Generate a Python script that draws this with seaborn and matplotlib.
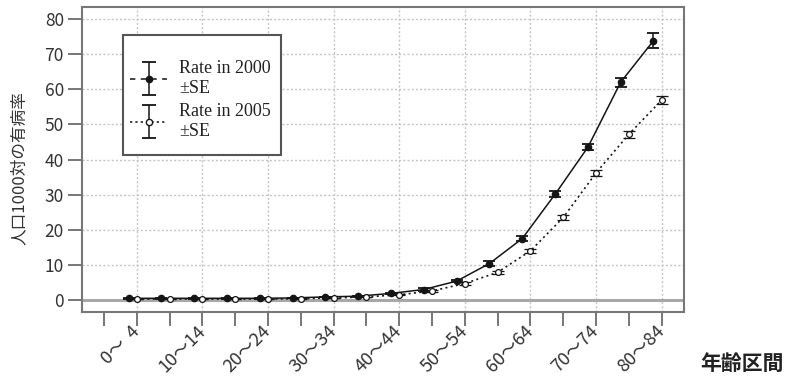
import numpy as np
import pandas as pd
import matplotlib
matplotlib.use("Agg")
import matplotlib.pyplot as plt
import matplotlib.transforms as mtransforms
import matplotlib.patches as mpatches
import seaborn as sns
from matplotlib.container import ErrorbarContainer
from matplotlib.lines import Line2D
from matplotlib.collections import LineCollection
from matplotlib.legend_handler import HandlerErrorbar

# ---- data -------------------------------------------------------------
age_groups = ["0-4", "5-9", "10-14", "15-19", "20-24", "25-29", "30-34",
              "35-39", "40-44", "45-49", "50-54", "55-59", "60-64",
              "65-69", "70-74", "75-79", "80-84"]
rate_2000 = [0.5, 0.5, 0.5, 0.5, 0.5, 0.6, 0.9, 1.1, 1.9, 3.0, 5.4,
             10.4, 17.5, 30.1, 43.5, 62.0, 73.8]
se_2000 = [0.1, 0.1, 0.1, 0.1, 0.1, 0.1, 0.1, 0.1, 0.2, 0.3, 0.4,
           0.6, 0.7, 0.8, 0.9, 1.3, 2.1]
rate_2005 = [0.3, 0.3, 0.3, 0.3, 0.3, 0.4, 0.6, 0.9, 1.5, 2.6, 4.7,
             7.9, 14.0, 23.5, 36.2, 47.2, 56.9]
se_2005 = [0.1, 0.1, 0.1, 0.1, 0.1, 0.1, 0.1, 0.1, 0.1, 0.2, 0.3,
           0.4, 0.5, 0.6, 0.8, 1.0, 1.2]
tick_labels = ["0～  4", "10～14", "20～24", "30～34", "40～44",
               "50～54", "60～64", "70～74", "80～84"]
y_ticks = [0, 10, 20, 30, 40, 50, 60, 70, 80]

# ---- style ------------------------------------------------------------
sns.set_theme(style="white")
plt.rcParams["font.family"] = ["Noto Sans CJK JP", "DejaVu Sans"]

INK = "#151515"
FRAME = "#777777"
GRID = "#c4c4c4"
TXT = "#333333"

pos = np.arange(1, len(age_groups) + 1)
df = pd.DataFrame({
    "pos": np.concatenate([pos - 0.25, pos]),
    "rate": rate_2000 + rate_2005,
    "se": se_2000 + se_2005,
    "year": ["2000"] * len(pos) + ["2005"] * len(pos),
})
d00 = df[df["year"] == "2000"]
d05 = df[df["year"] == "2005"]

W, H = 790, 385
fig = plt.figure(figsize=(W / 100, H / 100), dpi=100)
ax = fig.add_axes([82 / W, 1 - 312 / H, 602 / W, 305 / H])

# grid: dotted at 10..80 and at labelled age groups, solid grey baseline
for yv in y_ticks[1:]:
    ax.axhline(yv, color=GRID, lw=1.0, ls=(0, (1.5, 1.5)), zorder=0)
for xv in pos[::2]:
    ax.axvline(xv, color=GRID, lw=1.0, ls=(0, (1.5, 1.5)), zorder=0)
ax.axhline(0, color="#a8a8a8", lw=2.2, zorder=0.5)

# connecting lines
sns.lineplot(data=d00, x="pos", y="rate", ax=ax, color=INK, lw=1.1,
             estimator=None, sort=True, legend=False)
sns.lineplot(data=d05, x="pos", y="rate", ax=ax, color=INK, lw=1.2,
             estimator=None, sort=True, legend=False)
ax.lines[-1].set_linestyle((0, (1.2, 2.0)))

# points with standard-error bars
ax.errorbar(d00["pos"], d00["rate"], yerr=d00["se"], fmt="o", ms=4.5,
            color=INK, mfc=INK, mec=INK, ecolor=INK, elinewidth=1.1,
            capsize=4.5, capthick=1.3, zorder=3)
ax.errorbar(d05["pos"], d05["rate"], yerr=d05["se"], fmt="o", ms=4.2,
            color=INK, mfc="white", mec=INK, mew=0.9, ecolor=INK,
            elinewidth=1.0, capsize=4.5, capthick=1.3, zorder=3)

# axes limits and ticks
ax.set_xlim(-0.67, 17.68)
ax.set_ylim(-3.4, 83.4)
ax.set_yticks(y_ticks)
ax.set_yticklabels([str(v) for v in y_ticks], fontsize=12.5, color=TXT)
ax.set_xticks(np.arange(0, len(age_groups) + 1))
labels_full = [""] * (len(age_groups) + 1)
for i, lab in zip(pos[::2], tick_labels):
    labels_full[i] = lab
ax.set_xticklabels(labels_full, fontsize=13, color=TXT,
                   rotation=45, ha="right", va="center",
                   rotation_mode="anchor")
shift = mtransforms.ScaledTranslation(12 / 100, -3 / 100, fig.dpi_scale_trans)
for lab in ax.get_xticklabels():
    lab.set_transform(lab.get_transform() + shift)

ax.tick_params(axis="both", which="both", direction="out", length=10,
               width=1.4, color=FRAME, left=True, bottom=True)
ax.tick_params(axis="y", pad=3)
ax.tick_params(axis="x", pad=2)
for sp in ax.spines.values():
    sp.set_color(FRAME)
    sp.set_linewidth(1.5)
    sp.set_visible(True)

ax.set_xlabel("")
ax.set_ylabel("人口1000対の有病率", fontsize=12, color=TXT)
ax.yaxis.set_label_coords(-0.09, 0.472)
fig.text(742 / W, 1 - 363 / H, "年齢区間", fontsize=15,
         fontweight="bold", ha="center", va="center", color="#222222")

# legend with error-bar glyphs, on a white boxed panel
panel = mpatches.Rectangle((123 / W, 1 - 155 / H), 158 / W, 120 / H,
                           transform=fig.transFigure, facecolor="white",
                           edgecolor="#555555", lw=1.5, zorder=4,
                           clip_on=False)
ax.add_patch(panel)


def eb_handle(ls, mfc):
    line = Line2D([], [], color=INK, ls=ls, lw=1.1, marker="o", ms=4.5,
                  mfc=mfc, mec=INK)
    cap = Line2D([], [], color=INK, marker="_", ms=10, mew=1.3)
    bars = LineCollection([], colors=INK, linewidths=1.1)
    return ErrorbarContainer((line, (cap, cap), (bars,)),
                             has_xerr=False, has_yerr=True)


handles = [eb_handle((0, (3.5, 3.5)), INK), eb_handle((0, (1.5, 2.0)), "white")]
leg = ax.legend(handles, ["Rate in 2000\n±SE", "Rate in 2005\n±SE"],
                loc="upper left", bbox_to_anchor=(130 / W, 1 - 60 / H),
                bbox_transform=fig.transFigure,
                borderaxespad=0, borderpad=0, frameon=False,
                handlelength=2.05, handletextpad=0.65, labelspacing=0.34,
                handler_map={ErrorbarContainer: HandlerErrorbar(xerr_size=0.9)},
                prop={"family": "Liberation Serif", "size": 13})
leg.set_zorder(5)
for t in leg.get_texts():
    t.set_color("#222222")
    t.set_linespacing(1.22)

fig.savefig("out.png", dpi=100)
